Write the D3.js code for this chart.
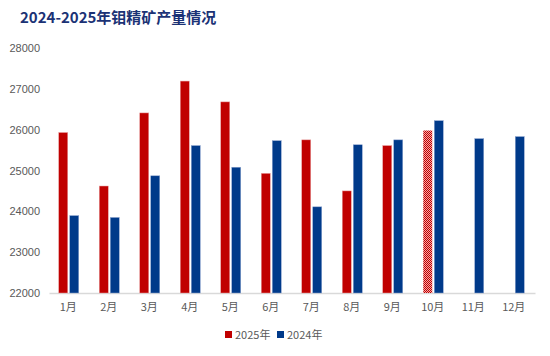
<!DOCTYPE html>
<html><head><meta charset="utf-8">
<script src="https://cdn.jsdelivr.net/npm/d3@7"></script>
<style>body{margin:0;background:#fff;} svg{display:block;}</style>
</head><body>
<svg id="c" width="550" height="356"></svg>
<script>
const months = ["1月","2月","3月","4月","5月","6月","7月","8月","9月","10月","11月","12月"];
const values2025 = [25930,24620,26410,27190,26680,24930,25750,24500,25610,25980,null,null];
const values2024 = [23895,23850,24870,25610,25080,25730,24110,25630,25750,26220,25780,25830];
const yTicks = [22000,23000,24000,25000,26000,27000,28000];
const seriesNames = ["2025年","2024年"];
const forecastIndex = 9;

const W=550,H=356;
const m={left:49,right:15,top:48,bottom:63};
const svg=d3.select("#c");
const red="#C00000", blue="#003A8A";

const defs=svg.append("defs");
const pat=defs.append("pattern").attr("id","chk").attr("patternUnits","userSpaceOnUse").attr("width",2).attr("height",2);
pat.append("rect").attr("width",2).attr("height",2).attr("fill","#f4a9a9");
pat.append("rect").attr("width",1).attr("height",1).attr("fill",red);
pat.append("rect").attr("x",1).attr("y",1).attr("width",1).attr("height",1).attr("fill",red);

const x=d3.scaleBand().domain(months).range([m.left,W-m.right]).paddingInner(0).paddingOuter(0);
const y=d3.scaleLinear().domain([22000,28000]).range([H-m.bottom,m.top]);

svg.append("text").attr("x",20).attr("y",23).attr("fill","#1B3275")
  .attr("font-family","'Noto Sans CJK SC', sans-serif").attr("font-weight","bold").attr("font-size",15)
  .text("2024-2025年钼精矿产量情况");

// y axis labels
const ya=svg.append("g").attr("transform",`translate(${m.left-9},0)`)
  .call(d3.axisLeft(y).tickValues(yTicks).tickSize(0).tickPadding(0).tickFormat(d3.format("d")));
ya.select(".domain").remove();
ya.selectAll("text").attr("font-family","'Liberation Sans', Arial, sans-serif").attr("font-size",11).attr("fill","#595959");

// baseline
const xa=svg.append("g").attr("transform",`translate(0,${H-m.bottom})`)
  .call(d3.axisBottom(x).tickSize(0).tickPadding(10));
xa.select(".domain").attr("stroke","#d9d9d9").attr("stroke-width",1.5);
xa.selectAll("text").attr("font-family","'Noto Sans CJK SC', sans-serif").attr("font-size",11).attr("fill","#595959").attr("dx",-1);

const bw=9, gap=2;
const c=d=>x(d)+x.bandwidth()/2-0.5;
svg.append("g").selectAll("rect").data(months.map((mo,i)=>({mo,v:values2025[i],i})).filter(d=>d.v!=null))
  .join("rect").attr("x",d=>c(d.mo)-gap/2-bw).attr("width",bw)
  .attr("y",d=>y(d.v)).attr("height",d=>y(22000)-y(d.v))
  .attr("fill",d=>d.i===forecastIndex?"url(#chk)":red)
  .attr("stroke",d=>d.i===forecastIndex?"none":"#e8a0a0").attr("stroke-width",0.5);
svg.append("g").selectAll("rect").data(months.map((mo,i)=>({mo,v:values2024[i]})))
  .join("rect").attr("x",d=>c(d.mo)+gap/2).attr("width",bw)
  .attr("y",d=>y(d.v)).attr("height",d=>y(22000)-y(d.v))
  .attr("fill",blue).attr("stroke","#8fa6cf").attr("stroke-width",0.5);

// legend
const lg=svg.append("g").attr("transform","translate(225,335)");
const items=[{n:seriesNames[0],c:red,x:0},{n:seriesNames[1],c:blue,x:52}];
const li=lg.selectAll("g").data(items).join("g").attr("transform",d=>`translate(${d.x},0)`);
li.append("rect").attr("x",0).attr("y",-4).attr("width",7).attr("height",7).attr("fill",d=>d.c);
li.append("text").attr("x",10).attr("y",4).attr("font-family","'Noto Sans CJK SC', sans-serif").attr("font-size",11).attr("fill","#595959").text(d=>d.n);
</script>
</body></html>
